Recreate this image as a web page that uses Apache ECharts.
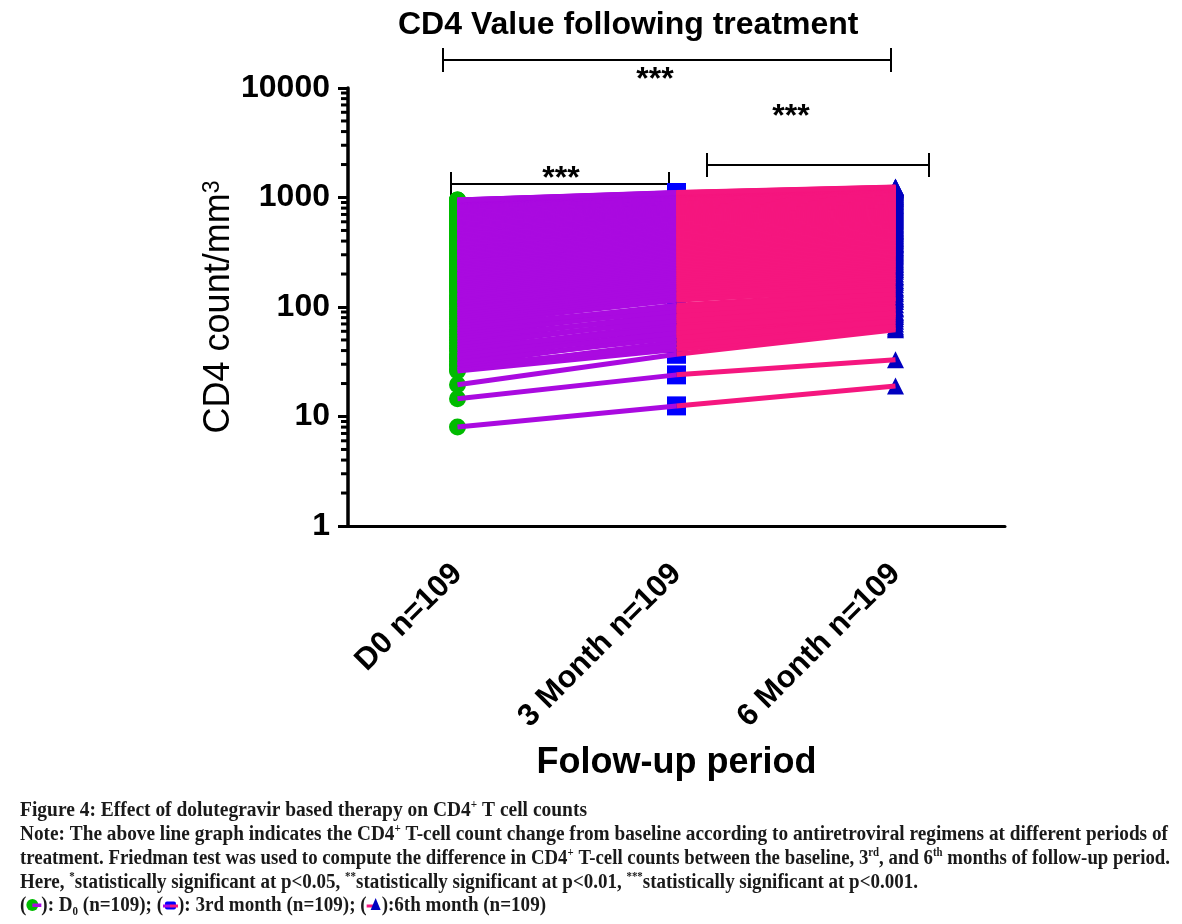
<!DOCTYPE html>
<html><head><meta charset="utf-8">
<script src="https://cdn.jsdelivr.net/npm/echarts@6/dist/echarts.min.js"></script>
<style>html,body{margin:0;padding:0;background:#fff}#c{width:1182px;height:924px}</style>
</head><body><div id="c"></div>
<script>
// ---------------- DATA ----------------
const categories = ['D0 n=109', '3 Month n=109', '6 Month n=109'];

// CD4 counts per subject (cells/mm3)
const d0 = [8, 14.5, 19.5, 26, 27, 29, 30, 32, 34, 35,
  37, 40, 42, 44, 47, 50, 53, 56, 59, 62,
  66, 70, 74, 78, 82, 86, 90, 95, 100, 106,
  109, 114, 120, 125, 128, 137, 143, 149, 155, 161,
  168, 174, 181, 188, 195, 198, 209, 216, 224, 231,
  239, 247, 255, 263, 271, 284, 288, 297, 306, 315,
  325, 334, 344, 354, 364, 375, 380, 396, 407, 419,
  430, 442, 454, 466, 479, 492, 510, 518, 532, 546,
  560, 575, 590, 605, 615, 636, 652, 668, 685, 702,
  719, 737, 755, 773, 788, 811, 830, 849, 868, 887,
  900, 912, 922, 930, 936, 941, 945, 948, 950];

const m3 = [12.5, 24, 37, 41, 48, 44, 55, 52, 60, 58,
  66, 70, 64, 78, 75, 86, 82, 95, 92, 104,
  100, 115, 118, 126, 130, 138, 145, 150, 158, 165,
  170, 178, 186, 192, 200, 208, 216, 224, 232, 240,
  248, 256, 265, 274, 282, 291, 300, 309, 318, 327,
  336, 346, 355, 365, 375, 385, 395, 405, 416, 426,
  437, 448, 459, 470, 482, 494, 506, 518, 530, 543,
  556, 569, 582, 596, 610, 624, 638, 652, 667, 682,
  697, 712, 728, 744, 760, 776, 793, 810, 827, 844,
  862, 880, 898, 916, 935, 954, 973, 992, 1011, 1030,
  1045, 1058, 1068, 1078, 1086, 1093, 1100, 1105, 1110];

const m6 = [19, 33, 62, 64, 70, 66, 78, 74, 85, 90,
  82, 96, 88, 105, 98, 112, 118, 125, 120, 138,
  132, 150, 145, 160, 168, 175, 184, 190, 200, 212,
  220, 228, 236, 245, 252, 262, 270, 280, 290, 298,
  306, 316, 325, 334, 344, 352, 362, 372, 381, 392,
  402, 412, 422, 433, 444, 455, 466, 477, 488, 500,
  512, 524, 536, 548, 560, 573, 586, 599, 612, 626,
  640, 654, 668, 682, 697, 712, 727, 742, 758, 774,
  790, 806, 822, 839, 856, 873, 890, 908, 926, 944,
  962, 981, 1000, 1019, 1038, 1058, 1078, 1098, 1118, 1138,
  1155, 1170, 1185, 1198, 1210, 1222, 1232, 1242, 1250];

const minorTickValues = [2, 3, 4, 5, 6, 7, 8, 9,
  20, 30, 40, 50, 60, 70, 80, 90,
  200, 300, 400, 500, 600, 700, 800, 900,
  2000, 3000, 4000, 5000, 6000, 7000, 8000, 9000];

const titleText = 'CD4 Value following treatment';
const xAxisName = 'Folow-up period';
const sigLabel = '***';

const captionRows = [
  [['Figure 4: Effect of dolutegravir based therapy on CD4', 'n'], ['+', 'sup'], [' T cell counts', 'n']],
  [['Note: The above line graph indicates the CD4', 'n'], ['+', 'sup'], [' T-cell count change from baseline according to antiretroviral regimens at different periods of', 'n']],
  [['treatment. Friedman test was used to compute the difference in CD4', 'n'], ['+', 'sup'], [' T-cell counts between the baseline, 3', 'n'], ['rd', 'sup'], [', and 6', 'n'], ['th', 'sup'], [' months of follow-up period.', 'n']],
  [['Here, ', 'n'], ['*', 'sup'], ['statistically significant at p<0.05, ', 'n'], ['**', 'sup'], ['statistically significant at p<0.01, ', 'n'], ['***', 'sup'], ['statistically significant at p<0.001.', 'n']],
  [['(', 'n'], ['d0', 'icon'], ['): D', 'n'], ['0', 'sub'], [' (n=109); (', 'n'], ['m3', 'icon'], ['): 3rd month (n=109); (', 'n'], ['m6', 'icon'], ['):6th month (n=109)', 'n']]
];

// ---------------- STYLE / LAYOUT ----------------
const SANS = '"Liberation Sans", Arial, sans-serif';
const SERIF = '"Liberation Serif", "Times New Roman", serif';
const C_GREEN = '#00BB00', C_PURPLE = '#AA0AE0', C_PINK = '#F5167F', C_BLUE = '#0000FF', C_NAVY = '#0000C0';

const chart = echarts.init(document.getElementById('c'), null, {renderer: 'canvas'});

// caption layout
const capX = 20, capY = [811, 835, 859, 883, 906], capRight = [587, 1168, 1170, 918, 546];
const capSize = 20, supSize = 11.5;
const mctx = document.createElement('canvas').getContext('2d');
function measure(t, size) { mctx.font = 'bold ' + size + 'px ' + SERIF; return mctx.measureText(t).width; }
const ICON_W = 15;
function iconEls(kind, x, y) {
  if (kind === 'd0') return [
    {type: 'circle', shape: {cx: x + 6, cy: y - 1, r: 6}, style: {fill: C_GREEN}},
    {type: 'rect', shape: {x: x + 6, y: y - 2.5, width: 9, height: 3.5}, style: {fill: C_PURPLE}}];
  if (kind === 'm3') return [
    {type: 'rect', shape: {x: x + 2, y: y - 4.5, width: 11, height: 8, r: 2}, style: {fill: C_BLUE}},
    {type: 'rect', shape: {x: x, y: y - 1.5, width: 7, height: 3}, style: {fill: C_PURPLE}},
    {type: 'rect', shape: {x: x + 7, y: y - 1.5, width: 8, height: 3}, style: {fill: C_PINK}}];
  return [
    {type: 'rect', shape: {x: x, y: y - 1.5, width: 8, height: 3}, style: {fill: C_PINK}},
    {type: 'polygon', shape: {points: [[x + 9, y - 8], [x + 14, y + 4], [x + 4, y + 4]]}, style: {fill: C_NAVY}}];
}
const graphics = [];
captionRows.forEach((row, r) => {
  let textW = 0, iconW = 0;
  row.forEach(([t, k]) => {
    if (k === 'icon') iconW += ICON_W;
    else textW += measure(t, k === 'n' ? capSize : supSize);
  });
  const s = (capRight[r] - capX - iconW) / textW;
  let x = capX;
  const y = capY[r];
  row.forEach(([t, k]) => {
    if (k === 'icon') { iconEls(t, x, y).forEach(e => graphics.push(e)); x += ICON_W; return; }
    const size = k === 'n' ? capSize : supSize;
    const dy = k === 'sup' ? -6 : (k === 'sub' ? 6 : 0);
    graphics.push({type: 'text', x: x, y: y + dy, scaleX: s,
      style: {text: t, font: 'bold ' + size + 'px ' + SERIF, fill: '#1a1a1a', align: 'left', verticalAlign: 'middle'}});
    x += measure(t, size) * s;
  });
});

// significance brackets (annotation)
const brackets = [
  {x1: 443, x2: 891, y: 60, h: 12, sx: 655, sy: 73},
  {x1: 451, x2: 669, y: 184, h: 12, sx: 561, sy: 172},
  {x1: 707, x2: 929, y: 165, h: 12, sx: 791, sy: 110}
];
brackets.forEach(b => {
  const ls = {stroke: '#000', lineWidth: 2};
  graphics.push({type: 'line', shape: {x1: b.x1, y1: b.y, x2: b.x2, y2: b.y}, style: ls});
  graphics.push({type: 'line', shape: {x1: b.x1, y1: b.y - b.h, x2: b.x1, y2: b.y + b.h}, style: ls});
  graphics.push({type: 'line', shape: {x1: b.x2, y1: b.y - b.h, x2: b.x2, y2: b.y + b.h}, style: ls});
  graphics.push({type: 'text', x: b.sx, y: b.sy + 7,
    style: {text: sigLabel, font: 'bold 32px ' + SANS, fill: '#000', align: 'center', verticalAlign: 'middle'}});
});

const purpleLines = d0.map((v, i) => ({coords: [[0, v], [1, m3[i]]]}));
const pinkLines = m3.map((v, i) => ({coords: [[1, v], [2, m6[i]]]}));

const option = {
  animation: false,
  backgroundColor: '#fff',
  title: {text: titleText, left: 393, top: 4,
    textStyle: {fontFamily: SANS, fontWeight: 'bold', fontSize: 32, color: '#000'}},
  grid: {left: 348, top: 88, width: 657, height: 438, containLabel: false, outerBoundsMode: 'none'},
  xAxis: {
    type: 'category', data: categories, boundaryGap: true,
    axisLine: {lineStyle: {color: '#000', width: 3}},
    axisTick: {alignWithLabel: true, length: 10, lineStyle: {color: '#000', width: 3}},
    axisLabel: {interval: 0, rotate: 45, margin: 43, fontFamily: SANS, fontWeight: 'bold', fontSize: 31, color: '#000'},
    splitLine: {show: false},
    name: xAxisName, nameLocation: 'middle', nameGap: 219, nameMoveOverlap: false,
    nameTextStyle: {fontFamily: SANS, fontWeight: 'bold', fontSize: 36, color: '#000'}
  },
  yAxis: {
    type: 'log', logBase: 10, min: 1, max: 10000,
    axisLine: {show: true, lineStyle: {color: '#000', width: 3.5}},
    axisTick: {show: true, length: 10, lineStyle: {color: '#000', width: 3}},
    axisLabel: {formatter: v => String(Math.round(v)), margin: 18, fontFamily: SANS, fontWeight: 'bold', fontSize: 32, color: '#000'},
    splitLine: {show: false},
    name: '{a|CD4 count/mm}{b|3}', nameLocation: 'middle', nameRotate: 90, nameGap: 111, nameMoveOverlap: false,
    nameTextStyle: {color: '#000', rich: {
      a: {fontFamily: SANS, fontSize: 36, color: '#000'},
      b: {fontFamily: SANS, fontSize: 23, color: '#000', verticalAlign: 'top'}}}
  },
  series: [
    {type: 'custom', coordinateSystem: 'cartesian2d', silent: true, clip: false, z: 6,
      data: minorTickValues.map(v => [0, v]),
      renderItem: (params, api) => {
        const p = api.coord([0, api.value(1)]);
        const x0 = params.coordSys.x;
        return {type: 'line', shape: {x1: x0 - 7, y1: p[1], x2: x0, y2: p[1]}, style: {stroke: '#000', lineWidth: 3}};
      }},
    {type: 'scatter', z: 2, silent: true, symbol: 'circle', symbolSize: 17, itemStyle: {color: C_GREEN, opacity: 1},
      data: d0.map(v => [0, v])},
    {type: 'scatter', z: 2, silent: true, symbol: 'rect', symbolSize: [19, 19], itemStyle: {color: C_BLUE, opacity: 1},
      data: m3.map(v => [1, v])},
    {type: 'scatter', z: 2, silent: true, symbol: 'triangle', symbolSize: [17, 17], itemStyle: {color: C_NAVY, opacity: 1},
      data: m6.map(v => [2, v])},
    {type: 'lines', coordinateSystem: 'cartesian2d', z: 3, silent: true,
      lineStyle: {color: C_PURPLE, width: 5, opacity: 1, curveness: 0}, data: purpleLines},
    {type: 'lines', coordinateSystem: 'cartesian2d', z: 4, silent: true,
      lineStyle: {color: C_PINK, width: 5, opacity: 1, curveness: 0}, data: pinkLines}
  ],
  graphic: graphics
};
chart.setOption(option);
</script></body></html>
